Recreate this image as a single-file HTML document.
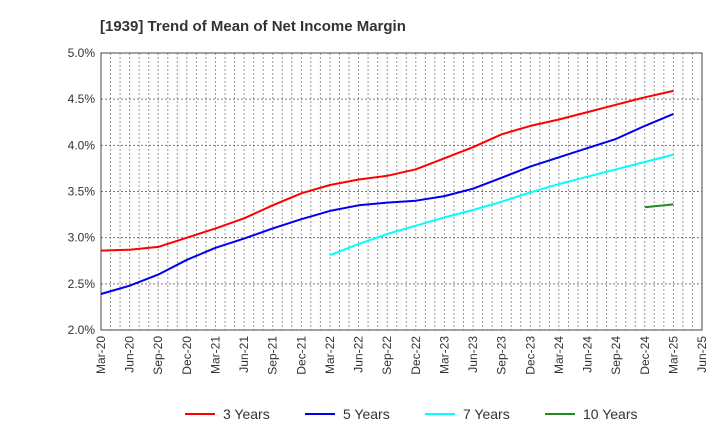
<!DOCTYPE html>
<html><head><meta charset="utf-8"><style>
body{margin:0;background:#fff;font-family:"Liberation Sans",sans-serif;}
</style></head><body>
<svg width="720" height="440" xmlns="http://www.w3.org/2000/svg">
<text x="100" y="31" font-size="15" font-weight="bold" fill="#333">[1939]  Trend of Mean of Net Income Margin</text>
<g id="grid"></g><g id="axes"></g><g id="series"></g><g id="legend"></g>
</svg>
<script>
const xLabels=["Mar-20","Jun-20","Sep-20","Dec-20","Mar-21","Jun-21","Sep-21","Dec-21","Mar-22","Jun-22","Sep-22","Dec-22","Mar-23","Jun-23","Sep-23","Dec-23","Mar-24","Jun-24","Sep-24","Dec-24","Mar-25","Jun-25"];
const yTicks=[2.0,2.5,3.0,3.5,4.0,4.5,5.0];
const s3=[2.86,2.87,2.90,3.00,3.10,3.21,3.35,3.48,3.57,3.63,3.67,3.74,3.86,3.98,4.12,4.21,4.28,4.36,4.44,4.52,4.59];
const s5=[2.39,2.48,2.60,2.76,2.89,2.99,3.10,3.20,3.29,3.35,3.38,3.40,3.45,3.53,3.65,3.77,3.87,3.97,4.07,4.21,4.34];
const s7=[null,null,null,null,null,null,null,null,2.81,2.93,3.04,3.13,3.22,3.30,3.39,3.49,3.58,3.66,3.74,3.82,3.90];
const s10=[null,null,null,null,null,null,null,null,null,null,null,null,null,null,null,null,null,null,null,3.33,3.36];
const L=101,R=702,T=53,B=330,NS="http://www.w3.org/2000/svg";
const months=63;
const xq=i=>L+(R-L)*(i*3)/months;
const xm=m=>L+(R-L)*m/months;
const y=v=>B-(v-2.0)/3.0*(B-T);
function mk(t,a,p){const e=document.createElementNS(NS,t);for(const k in a)e.setAttribute(k,a[k]);p.appendChild(e);return e;}
const g=document.getElementById('grid'),ax=document.getElementById('axes'),sg=document.getElementById('series'),lg=document.getElementById('legend');
for(let m=1;m<months;m++){const l=mk('line',{x1:xm(m),x2:xm(m),y1:T,y2:B,stroke:'#999','stroke-dasharray':'2,2','stroke-width':1},g);

}
yTicks.forEach(v=>{const l=mk('line',{x1:L,x2:R,y1:y(v),y2:y(v),stroke:'#777','stroke-dasharray':'2,2','stroke-width':1},g);


const t=mk('text',{x:L-6,y:y(v)+4,'text-anchor':'end','font-size':12,fill:'#333'},ax);t.textContent=v.toFixed(1)+'%';

});
const fr=mk('rect',{x:L,y:T,width:R-L,height:B-T,fill:'none',stroke:'#444','stroke-width':1},ax);


xLabels.forEach((s,i)=>{const x=xq(i);const t=mk('text',{x:x+4,y:B+6,'text-anchor':'end','font-size':12,fill:'#333',transform:`rotate(-90 ${x+4} ${B+6})`},ax);t.textContent=s;

});
function draw(arr,color,name){let pts=[];arr.forEach((v,i)=>{if(v!=null)pts.push(xq(i).toFixed(1)+','+y(v).toFixed(1));});
const p=mk('polyline',{points:pts.join(' '),fill:'none',stroke:color,'stroke-width':2,'stroke-linejoin':'round'},sg);

}
draw(s3,'#ff0000','line-3-years');draw(s5,'#0000ee','line-5-years');draw(s7,'#00ffff','line-7-years');draw(s10,'#228b22','line-10-years');
const leg=[['3 Years','#ff0000',185],['5 Years','#0000ee',305],['7 Years','#00ffff',425],['10 Years','#228b22',545]];
leg.forEach(([lab,c,x])=>{const gg=mk('g',{},lg);


mk('line',{x1:x,x2:x+30,y1:414,y2:414,stroke:c,'stroke-width':2},gg);
const t=mk('text',{x:x+38,y:419,'font-size':14,fill:'#333'},gg);t.textContent=lab;});
</script>
</body></html>
